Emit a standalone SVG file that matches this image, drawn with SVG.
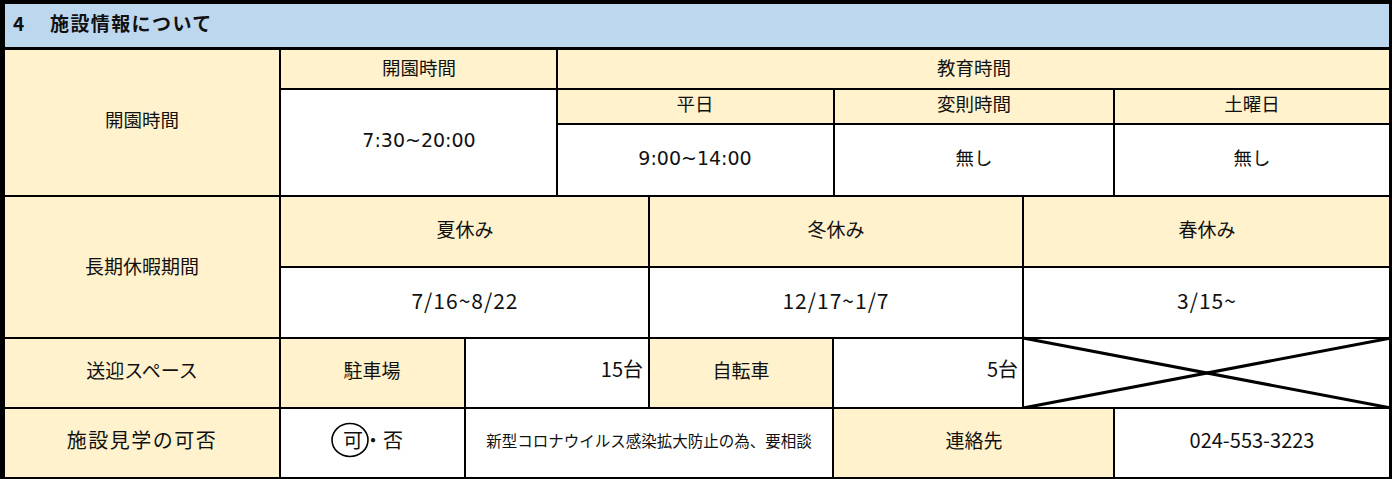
<svg xmlns="http://www.w3.org/2000/svg" width="1392" height="479" viewBox="0 0 1392 479">
<style>
.y{fill:#FFF2CC}
.w{fill:#FFFFFF}
.t{font-family:'Noto Sans CJK JP','Noto Sans CJK SC',sans-serif;font-size:19px;fill:#111;text-anchor:middle}
.t1{font-family:'Noto Sans CJK JP','Noto Sans CJK SC',sans-serif;font-size:18.5px;fill:#111;text-anchor:middle}
.d{font-family:'DejaVu Sans',sans-serif;font-size:19px;fill:#111;text-anchor:middle}
.n{font-family:'Noto Sans CJK JP','Noto Sans CJK SC',sans-serif;font-size:21px;fill:#111;text-anchor:middle;letter-spacing:1px}
.r{font-family:'Noto Sans CJK JP','Noto Sans CJK SC',sans-serif;font-size:20px;fill:#111;text-anchor:end}
.ln{stroke:#000;stroke-width:2;fill:none}
</style>
<rect x="0" y="0" width="1392" height="479" fill="#FFFFFF"/>
<g id="header">
<rect x="0" y="0" width="1392" height="48" fill="#BDD7EE"/>
<text x="13" y="31" style="font-family:'Noto Sans CJK JP',sans-serif;font-size:19px;font-weight:bold;fill:#111;letter-spacing:1.4px">4　<tspan x="50">施設情報について</tspan></text>
</g>
<g id="row-hours">
<rect class="y" x="0" y="48" width="280" height="148"/>
<rect class="y" x="280" y="48" width="1111" height="41"/>
<rect class="y" x="557" y="89" width="834" height="35"/>
<text class="t1" x="142" y="127">開園時間</text>
<text class="t1" x="419" y="75">開園時間</text>
<text class="t1" x="974" y="75">教育時間</text>
<text class="t1" x="695" y="111">平日</text>
<text class="t1" x="974" y="111">変則時間</text>
<text class="t1" x="1252" y="111">土曜日</text>
<text class="d" x="419" y="146.5">7:30~20:00</text>
<text class="d" x="695" y="165">9:00~14:00</text>
<text class="t1" x="974" y="165">無し</text>
<text class="t1" x="1252" y="165">無し</text>
</g>
<g id="row-holidays">
<rect class="y" x="0" y="196" width="280" height="142"/>
<rect class="y" x="280" y="196" width="1111" height="71"/>
<text class="t" x="142" y="274">長期休暇期間</text>
<text class="t" x="465" y="237">夏休み</text>
<text class="t" x="836" y="237">冬休み</text>
<text class="t" x="1207" y="237">春休み</text>
<text class="n" x="465" y="309">7/16~8/22</text>
<text class="n" x="836" y="309">12/17~1/7</text>
<text class="n" x="1207" y="309">3/15~</text>
</g>
<g id="row-parking">
<rect class="y" x="0" y="338" width="280" height="70"/>
<rect class="y" x="280" y="338" width="185" height="70"/>
<rect class="y" x="649" y="338" width="184" height="70"/>
<text class="t" x="142" y="378">送迎スペース</text>
<text class="t" x="372" y="378">駐車場</text>
<text class="r" x="643" y="377">15台</text>
<text class="t" x="741" y="378">自転車</text>
<text class="r" x="1018" y="377">5台</text>
<line class="ln" x1="1023" y1="338" x2="1391" y2="408" style="stroke-width:3"/>
<line class="ln" x1="1023" y1="408" x2="1391" y2="338" style="stroke-width:3"/>
</g>
<g id="row-visit">
<rect class="y" x="0" y="408" width="280" height="71"/>
<rect class="y" x="833" y="408" width="281" height="71"/>
<text class="t" x="142" y="448" style="font-size:20px;letter-spacing:1.5px">施設見学の可否</text>
<ellipse cx="350" cy="440" rx="18" ry="16.5" fill="none" stroke="#000" stroke-width="1.6"/>
<text x="343" y="448" style="font-family:'Noto Sans CJK JP',sans-serif;font-size:20px;fill:#111">可・否</text>
<text x="649" y="447" style="font-family:'Noto Sans CJK JP',sans-serif;font-size:15.5px;fill:#111;text-anchor:middle">新型コロナウイルス感染拡大防止の為、要相談</text>
<text class="t" x="974" y="448">連絡先</text>
<text x="1252" y="448" style="font-family:'Noto Sans CJK JP',sans-serif;font-size:20px;fill:#111;text-anchor:middle">024-553-3223</text>
</g>
<g id="grid-lines">
<line class="ln" x1="0" y1="48.5" x2="1392" y2="48.5" style="stroke-width:3"/>
<line class="ln" x1="280" y1="89" x2="1391" y2="89"/>
<line class="ln" x1="557" y1="124" x2="1391" y2="124"/>
<line class="ln" x1="0" y1="196" x2="1391" y2="196"/>
<line class="ln" x1="280" y1="267" x2="1391" y2="267"/>
<line class="ln" x1="0" y1="338" x2="1391" y2="338"/>
<line class="ln" x1="0" y1="408" x2="1391" y2="408"/>
<line class="ln" x1="0" y1="478" x2="1391" y2="478"/>
<line class="ln" x1="280" y1="48" x2="280" y2="479"/>
<line class="ln" x1="557" y1="48" x2="557" y2="196"/>
<line class="ln" x1="834" y1="89" x2="834" y2="196"/>
<line class="ln" x1="1114" y1="89" x2="1114" y2="196"/>
<line class="ln" x1="649" y1="196" x2="649" y2="408"/>
<line class="ln" x1="1023" y1="196" x2="1023" y2="408"/>
<line class="ln" x1="465" y1="338" x2="465" y2="479"/>
<line class="ln" x1="833" y1="338" x2="833" y2="479"/>
<line class="ln" x1="1114" y1="408" x2="1114" y2="479"/>
<line class="ln" x1="2.5" y1="0" x2="2.5" y2="479" style="stroke-width:5"/>
<line class="ln" x1="0" y1="2" x2="1392" y2="2" style="stroke-width:4"/>
<line class="ln" x1="1390.5" y1="0" x2="1390.5" y2="479" style="stroke-width:3"/>
</g>
</svg>
